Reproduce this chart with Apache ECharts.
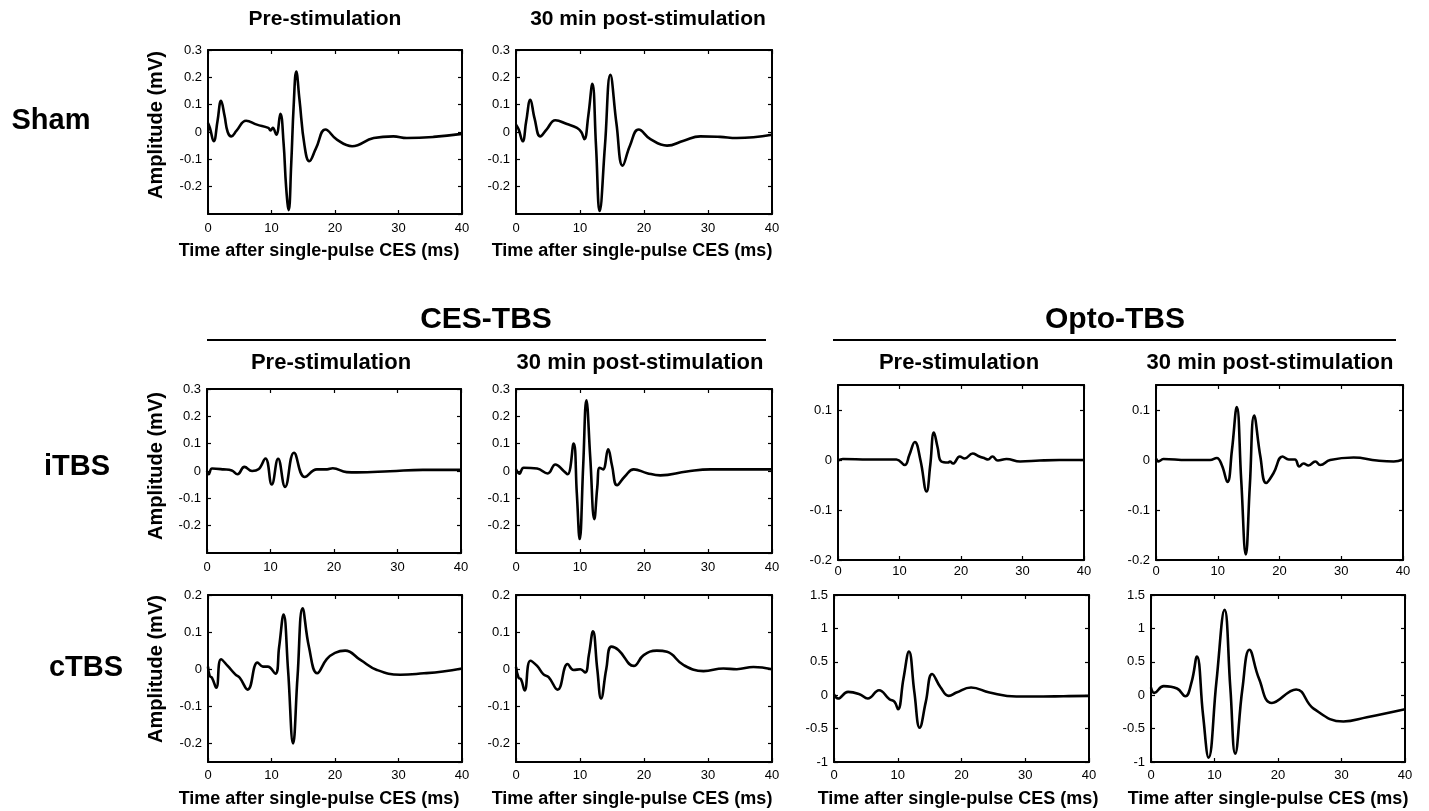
<!DOCTYPE html>
<html><head><meta charset="utf-8">
<script src="https://cdn.jsdelivr.net/npm/echarts@6/dist/echarts.min.js"></script>
<style>html,body{margin:0;padding:0;background:#fff}#c{width:1429px;height:811px}</style>
</head><body><div id="c"></div>
<script>
// ---- Data (time in ms, amplitude in mV) ----
const xTicks = [0, 10, 20, 30, 40];

const shamPreT = [0, 0.3, 0.9, 1.5, 2.05, 2.6, 3.1, 3.67, 4.5, 6.0, 7.7, 9.5, 9.85, 10.2, 10.75, 11.4, 11.9, 12.3, 12.7, 13.1, 13.5, 13.9, 14.4, 15.2, 15.95, 17.0, 18.5, 20.3, 22.7, 26.1, 29.2, 31.3, 35.5, 40];
const shamPreV = [0.033, 0.015, -0.034, 0.04, 0.114, 0.06, 0.0, -0.016, 0.005, 0.041, 0.027, 0.015, 0.006, 0.015, -0.01, 0.067, -0.04, -0.2, -0.286, -0.12, 0.1, 0.221, 0.12, -0.05, -0.107, -0.06, 0.009, -0.028, -0.052, -0.022, -0.016, -0.022, -0.018, -0.007];

const shamPostT = [0, 0.42, 1.04, 1.6, 2.24, 2.9, 3.8, 4.8, 6.15, 7.97, 9.53, 10.2, 10.68, 11.3, 11.93, 12.5, 13.07, 13.9, 14.74, 15.7, 16.67, 17.8, 19.17, 21.0, 23.6, 26.2, 28.8, 31.9, 34.5, 37.1, 40];
const shamPostV = [0.027, 0.009, -0.034, 0.04, 0.118, 0.05, -0.016, 0.01, 0.043, 0.029, 0.015, 0.0, -0.026, 0.06, 0.176, -0.05, -0.289, -0.05, 0.209, 0.03, -0.123, -0.05, 0.009, -0.026, -0.05, -0.032, -0.016, -0.018, -0.022, -0.019, -0.01];

const cesItbsPreT = [0, 0.26, 0.8, 2.6, 3.9, 4.8, 5.9, 7.1, 8.1, 9.2, 10.2, 11.2, 12.3, 13.7, 15.4, 17.3, 18.9, 19.8, 22, 23.6, 28.8, 34, 40];
const cesItbsPreV = [0, -0.012, 0.009, 0.006, 0.002, -0.012, 0.015, 0, 0.006, 0.046, -0.049, 0.045, -0.058, 0.067, -0.022, 0.006, 0.006, 0.01, -0.004, -0.005, -0.001, 0.004, 0.004];

const cesItbsPostT = [0, 0.52, 1.2, 3.3, 4.95, 6.15, 7.45, 8.07, 9.0, 9.5, 9.95, 10.5, 11.0, 11.6, 12.24, 12.7, 13.07, 13.6, 14.4, 15.0, 15.8, 17.0, 18.4, 20.5, 22.55, 26.7, 30.4, 35, 40];
const cesItbsPostV = [0.006, -0.01, 0.012, 0.009, -0.009, 0.024, 0, -0.012, 0.1, -0.08, -0.249, 0.02, 0.259, 0.05, -0.176, -0.06, 0.012, 0.006, 0.079, 0.02, -0.052, -0.02, 0.006, -0.008, -0.016, -0.002, 0.006, 0.006, 0.006];

const optoItbsPreT = [0, 0.8, 5, 9.5, 10.85, 11.6, 12.5, 13.4, 14.4, 15.0, 15.6, 16.2, 16.8, 17.9, 18.2, 18.7, 19.8, 20.6, 21.9, 22.8, 23.9, 24.4, 25.1, 26.0, 27.4, 29.6, 32.8, 36, 40];
const optoItbsPreV = [-0.001, 0.002, 0.001, 0.001, -0.01, 0.01, 0.036, 0.0, -0.063, -0.01, 0.055, 0.025, -0.003, -0.005, -0.003, -0.007, 0.007, 0.003, 0.013, 0.008, 0.003, 0.001, 0.007, -0.001, 0.002, -0.003, -0.001, 0, 0];

const optoItbsPostT = [0, 0.4, 1.2, 5, 8.76, 9.84, 10.65, 11.57, 12.3, 13.08, 13.8, 14.54, 15.2, 15.9, 16.9, 17.84, 19.0, 20.5, 21.5, 22.5, 23.2, 23.9, 24.7, 25.8, 26.6, 28.2, 32, 35.8, 38.5, 40];
const optoItbsPostV = [0.003, -0.003, 0.002, 0.0, 0.0, 0.004, -0.01, -0.044, 0.02, 0.106, -0.04, -0.189, -0.05, 0.089, 0.007, -0.046, -0.027, 0.007, 0.001, 0.001, -0.013, -0.007, -0.011, -0.003, -0.01, 0, 0.005, -0.001, -0.003, 0.001];

const cesCtbsPreT = [0, 0.26, 0.63, 1.3, 2.05, 3.1, 4.3, 5.0, 6.25, 7.8, 8.66, 9.4, 10.6, 11.2, 11.9, 12.6, 13.4, 14.1, 14.9, 15.9, 17.2, 18.7, 20.0, 21.6, 24.0, 26.6, 30.3, 34.0, 37, 40];
const cesCtbsPreV = [0.007, -0.018, -0.023, -0.05, 0.027, 0.009, -0.014, -0.023, -0.055, 0.018, 0.007, 0.007, -0.012, 0.06, 0.147, 0.0, -0.2, -0.02, 0.164, 0.06, -0.011, 0.027, 0.044, 0.05, 0.025, -0.002, -0.015, -0.011, -0.006, 0.002];

const cesCtbsPostT = [0, 0.4, 0.78, 1.35, 2.24, 3.3, 4.3, 5.1, 6.5, 8.07, 9.0, 10.05, 10.8, 11.4, 12.03, 12.7, 13.3, 14.1, 14.9, 16.0, 18.4, 19.95, 22.0, 23.6, 26.2, 29.3, 32.4, 34.5, 37.1, 40];
const cesCtbsPostV = [0.006, -0.023, -0.027, -0.057, 0.023, 0.009, -0.014, -0.021, -0.055, 0.014, -0.002, 0, -0.009, 0.04, 0.102, 0.0, -0.079, 0.0, 0.061, 0.052, 0.009, 0.038, 0.05, 0.047, 0.011, -0.005, 0.002, 0, 0.006, 0];

const optoCtbsPreT = [0, 0.63, 2.2, 4.0, 5.3, 7.06, 8.7, 9.5, 10.04, 10.9, 11.76, 12.6, 13.44, 14.4, 15.4, 16.7, 18.0, 19.2, 21.5, 24.4, 28.6, 32.8, 36, 40];
const optoCtbsPreV = [0.015, -0.05, 0.05, 0.015, -0.05, 0.075, -0.06, -0.1, -0.21, 0.25, 0.653, 0.05, -0.487, -0.1, 0.317, 0.12, -0.01, 0.04, 0.116, 0.04, -0.02, -0.02, -0.015, -0.01];

const optoCtbsPostT = [0, 0.52, 2.0, 4.1, 5.4, 6.4, 7.23, 8.2, 9.07, 10.3, 11.59, 12.5, 13.26, 14.4, 15.5, 17.0, 19.03, 22.86, 25.6, 30.3, 34.0, 40];
const optoCtbsPostV = [0.116, 0.035, 0.136, 0.1, -0.015, 0.2, 0.58, -0.3, -0.934, 0.2, 1.278, 0.1, -0.874, 0.1, 0.68, 0.25, -0.116, 0.086, -0.2, -0.394, -0.33, -0.21];

// y-axis ranges (tick labels generated by the axis)
const yRangeCES = [-0.3, 0.3];
const yRangeOptoI = [-0.2, 0.15];
const yRangeCESc = [-0.25, 0.2];
const yRangeOptoC = [-1, 1.5];

// ---- Layout ----
const FONT = '"Liberation Sans", Arial, Helvetica, sans-serif';
const panels = [
  {t: shamPreT, v: shamPreV, rect: [208, 50, 254, 164], y: yRangeCES, interval: 0.1, hideMin: true, xm: 8},
  {t: shamPostT, v: shamPostV, rect: [516, 50, 256, 164], y: yRangeCES, interval: 0.1, hideMin: true, xm: 8},
  {t: cesItbsPreT, v: cesItbsPreV, rect: [207, 389, 254, 164], y: yRangeCES, interval: 0.1, hideMin: true, xm: 8},
  {t: cesItbsPostT, v: cesItbsPostV, rect: [516, 389, 256, 164], y: yRangeCES, interval: 0.1, hideMin: true, xm: 8},
  {t: optoItbsPreT, v: optoItbsPreV, rect: [838, 385, 246, 175], y: yRangeOptoI, interval: 0.1, hideMax: true, xm: 5},
  {t: optoItbsPostT, v: optoItbsPostV, rect: [1156, 385, 247, 175], y: yRangeOptoI, interval: 0.1, hideMax: true, xm: 5},
  {t: cesCtbsPreT, v: cesCtbsPreV, rect: [208, 595, 254, 167], y: yRangeCESc, split: 5, hideMin: true, xm: 7},
  {t: cesCtbsPostT, v: cesCtbsPostV, rect: [516, 595, 256, 167], y: yRangeCESc, split: 5, hideMin: true, xm: 7},
  {t: optoCtbsPreT, v: optoCtbsPreV, rect: [834, 595, 255, 167], y: yRangeOptoC, interval: 0.5, xm: 7},
  {t: optoCtbsPostT, v: optoCtbsPostV, rect: [1151, 595, 254, 167], y: yRangeOptoC, interval: 0.5, xm: 7}
];

const fmt = v => String(Math.round(v * 100) / 100);
const axLine = {show: true, onZero: false, lineStyle: {color: '#000', width: 2}};
const axTick = {show: true, inside: true, length: 4, lineStyle: {color: '#000', width: 1.2}};

const grid = [], xAxis = [], yAxis = [], series = [];
panels.forEach((p, i) => {
  grid.push({left: p.rect[0], top: p.rect[1], width: p.rect[2], height: p.rect[3], containLabel: false});
  const xBase = {type: 'value', gridIndex: i, min: xTicks[0], max: xTicks[xTicks.length - 1], interval: xTicks[1] - xTicks[0],
    axisLine: axLine, axisTick: axTick, splitLine: {show: false}};
  xAxis.push(Object.assign({}, xBase, {position: 'bottom',
    axisLabel: {show: true, color: '#000', fontSize: 13, fontFamily: FONT, margin: p.xm, formatter: fmt}}));
  xAxis.push(Object.assign({}, xBase, {position: 'top', axisLabel: {show: false}}));
  const yBase = {type: 'value', gridIndex: i, min: p.y[0], max: p.y[1],
    axisLine: axLine, axisTick: axTick, splitLine: {show: false}};
  if (p.interval) yBase.interval = p.interval; else yBase.splitNumber = p.split;
  yAxis.push(Object.assign({}, yBase, {position: 'left',
    axisLabel: {show: true, color: '#000', fontSize: 13, fontFamily: FONT, margin: 6, formatter: fmt,
      showMinLabel: !p.hideMin, showMaxLabel: !p.hideMax}}));
  yAxis.push(Object.assign({}, yBase, {position: 'right', axisLabel: {show: false}}));
  series.push({type: 'line', xAxisIndex: 2 * i, yAxisIndex: 2 * i, showSymbol: false, smooth: 0.45,
    data: p.t.map((t, k) => [t, p.v[k]]), lineStyle: {color: '#000', width: 2.6}, silent: true, animation: false});
});

function txt(s, x, y, size, rot) {
  return {type: 'text', x: x, y: y, rotation: rot || 0,
    style: {text: s, font: 'bold ' + size + 'px ' + FONT, fill: '#000', textAlign: 'center', textVerticalAlign: 'middle'}};
}
const graphic = [
  txt('Pre-stimulation', 325, 19, 21),
  txt('30 min post-stimulation', 648, 19, 21),
  txt('Sham', 51, 121, 29),
  txt('Amplitude (mV)', 156, 125, 20, Math.PI / 2),
  txt('Time after single-pulse CES (ms)', 319, 251, 18),
  txt('Time after single-pulse CES (ms)', 632, 251, 18),
  txt('CES-TBS', 486, 320, 30),
  txt('Opto-TBS', 1115, 320, 30),
  {type: 'line', shape: {x1: 207, y1: 340, x2: 766, y2: 340}, style: {stroke: '#000', lineWidth: 2}},
  {type: 'line', shape: {x1: 833, y1: 340, x2: 1396, y2: 340}, style: {stroke: '#000', lineWidth: 2}},
  txt('Pre-stimulation', 331, 363, 22),
  txt('30 min post-stimulation', 640, 363, 22),
  txt('Pre-stimulation', 959, 363, 22),
  txt('30 min post-stimulation', 1270, 363, 22),
  txt('iTBS', 77, 467, 29),
  txt('Amplitude (mV)', 156, 466, 20, Math.PI / 2),
  txt('cTBS', 86, 668, 29),
  txt('Amplitude (mV)', 156, 669, 20, Math.PI / 2),
  txt('Time after single-pulse CES (ms)', 319, 799, 18),
  txt('Time after single-pulse CES (ms)', 632, 799, 18),
  txt('Time after single-pulse CES (ms)', 958, 799, 18),
  txt('Time after single-pulse CES (ms)', 1268, 799, 18)
];

const chart = echarts.init(document.getElementById('c'), null, {renderer: 'canvas'});
chart.setOption({animation: false, backgroundColor: '#fff', grid, xAxis, yAxis, series, graphic});
</script></body></html>
